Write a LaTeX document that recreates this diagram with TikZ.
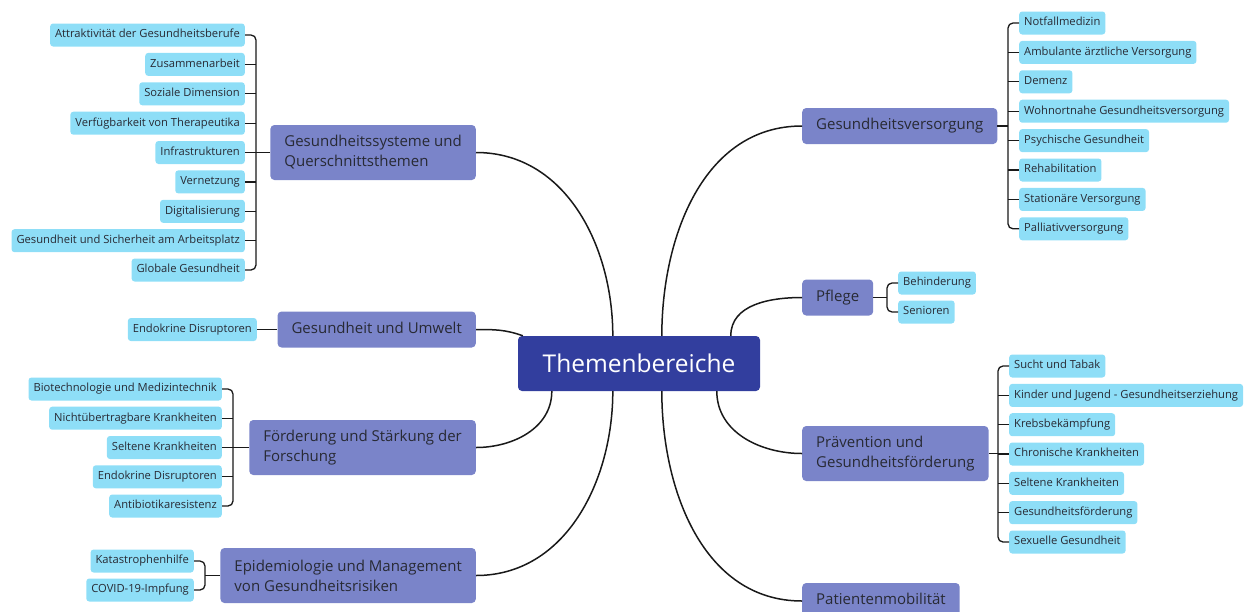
\documentclass[tikz,border=0pt]{standalone}
\usepackage{fontspec}
\setmainfont{Open Sans}
\usetikzlibrary{calc}
\definecolor{centralc}{RGB}{50,62,158}
\definecolor{topicc}{RGB}{122,132,201}
\definecolor{leafc}{RGB}{142,222,247}
\definecolor{txtc}{RGB}{40,42,52}
\begin{document}
\begin{tikzpicture}[x=1pt,y=-1pt,
  leafbox/.style={fill=leafc, rounded corners=3pt, inner xsep=5pt, inner ysep=0pt, minimum height=23pt, text height=8.4pt, text depth=2.6pt, font=\fontsize{11.2}{13}\selectfont, text=txtc},
  topicbox/.style={fill=topicc, rounded corners=4pt, inner xsep=14pt, inner ysep=0pt, minimum height=36pt, font=\fontsize{15}{20}\selectfont, align=left, text=txtc},
  oneline/.style={text height=11pt, text depth=3.5pt},
  twoline/.style={minimum height=55pt},
  conn/.style={draw=black!90, line width=1.5pt},
  bracket/.style={draw=black!90, line width=1.3pt, rounded corners=5pt},
  twig/.style={draw=black!90, line width=1.3pt}]
\useasboundingbox (0,0) rectangle (1252,611);
\clip (0,0) rectangle (1252,611);

% central
\node[fill=centralc, text=white, rounded corners=4pt, minimum width=242pt, minimum height=55pt, inner sep=0pt, font=\fontsize{24.5}{28}\selectfont] (c) at (639,363.5) {Themenbereiche};

% ---------- left topics
\node[topicbox, twoline, anchor=east] (t1) at (476,152.5) {Gesundheitssysteme und\\Querschnittsthemen};
\node[topicbox, oneline, anchor=east] (t2) at (476,329.5) {Gesundheit und Umwelt};
\node[topicbox, twoline, anchor=east] (t3) at (476,447.5) {Förderung und Stärkung der\\Forschung};
\node[topicbox, twoline, anchor=east] (t4) at (476,575.5) {Epidemiologie und Management\\von Gesundheitsrisiken};

% ---------- right topics
\node[topicbox, oneline, anchor=west] (t5) at (802,126) {Gesundheitsversorgung};
\node[topicbox, oneline, anchor=west] (t6) at (802,297.5) {Pflege};
\node[topicbox, twoline, anchor=west] (t7) at (802,453.5) {Prävention und\\Gesundheitsförderung};
\node[topicbox, oneline, anchor=west] (t8) at (802,601) {Patientenmobilität};

% ---------- central connectors
\draw[conn] ([xshift=95pt]c.north west) to[out=90,in=0] (t1.east);
\draw[conn] ([xshift=5pt]c.north west) to[out=160,in=0] (t2.east);
\draw[conn] ([xshift=34pt]c.south west) to[out=-90,in=0] (t3.east);
\draw[conn] ([xshift=95pt]c.south west) to[out=-90,in=0] (t4.east);
\draw[conn] ([xshift=144pt]c.north west) to[out=90,in=180] (t5.west);
\draw[conn] ([xshift=213pt]c.north west) to[out=90,in=180] (t6.west);
\draw[conn] ([xshift=199pt]c.south west) to[out=-90,in=180] (t7.west);
\draw[conn] ([xshift=144pt]c.south west) to[out=-90,in=180] (t8.west);

% ---------- group 1 leaves
\node[leafbox, anchor=east] (a1) at (245,35) {Attraktivität der Gesundheitsberufe};
\node[leafbox, anchor=east] (a2) at (245,64.4) {Zusammenarbeit};
\node[leafbox, anchor=east] (a3) at (245,93.8) {Soziale Dimension};
\node[leafbox, anchor=east] (a4) at (245,123.2) {Verfügbarkeit von Therapeutika};
\node[leafbox, anchor=east] (a5) at (245,152.5) {Infrastrukturen};
\node[leafbox, anchor=east] (a6) at (245,181.9) {Vernetzung};
\node[leafbox, anchor=east] (a7) at (245,211.3) {Digitalisierung};
\node[leafbox, anchor=east] (a8) at (245,240.7) {Gesundheit und Sicherheit am Arbeitsplatz};
\node[leafbox, anchor=east] (a9) at (245,270) {Globale Gesundheit};
\coordinate (s1) at (256,152.5);
\draw[bracket] (a1.east) -| (s1) |- (a9.east);
\draw[twig] (t1.west) -- (s1);
\foreach \i in {2,...,8} \draw[twig] (a\i.east) -- (a\i.east -| s1);

% ---------- Umwelt leaf
\node[leafbox, anchor=east] (b1) at (257,329.5) {Endokrine Disruptoren};
\draw[twig] (b1.east) -- (t2.west);

% ---------- Forschung leaves
\node[leafbox, anchor=east] (f1) at (222,389) {Biotechnologie und Medizintechnik};
\node[leafbox, anchor=east] (f2) at (222,418.2) {Nichtübertragbare Krankheiten};
\node[leafbox, anchor=east] (f3) at (222,447.5) {Seltene Krankheiten};
\node[leafbox, anchor=east] (f4) at (222,476.8) {Endokrine Disruptoren};
\node[leafbox, anchor=east] (f5) at (222,506) {Antibiotikaresistenz};
\coordinate (s3) at (233,447.5);
\draw[bracket] (f1.east) -| (s3) |- (f5.east);
\draw[twig] (t3.west) -- (s3);
\foreach \i in {2,3,4} \draw[twig] (f\i.east) -- (f\i.east -| s3);

% ---------- Epidemiologie leaves
\node[leafbox, anchor=east] (e1) at (194,561) {Katastrophenhilfe};
\node[leafbox, anchor=east] (e2) at (194,590) {COVID-19-Impfung};
\coordinate (s4) at (205,575.5);
\draw[bracket] (e1.east) -| (s4) |- (e2.east);
\draw[twig] (t4.west) -- (s4);

% ---------- Versorgung leaves
\node[leafbox, anchor=west] (v1) at (1019,23) {Notfallmedizin};
\node[leafbox, anchor=west] (v2) at (1019,52.4) {Ambulante ärztliche Versorgung};
\node[leafbox, anchor=west] (v3) at (1019,81.8) {Demenz};
\node[leafbox, anchor=west] (v4) at (1019,111.2) {Wohnortnahe Gesundheitsversorgung};
\node[leafbox, anchor=west] (v5) at (1019,140.6) {Psychische Gesundheit};
\node[leafbox, anchor=west] (v6) at (1019,170) {Rehabilitation};
\node[leafbox, anchor=west] (v7) at (1019,199.4) {Stationäre Versorgung};
\node[leafbox, anchor=west] (v8) at (1019,228.8) {Palliativversorgung};
\coordinate (s5) at (1008,126);
\draw[bracket] (v1.west) -| (s5) |- (v8.west);
\draw[twig] (t5.east) -- (s5);
\foreach \i in {2,...,7} \draw[twig] (v\i.west) -- (v\i.west -| s5);

% ---------- Pflege leaves
\node[leafbox, anchor=west] (p1) at (898,283) {Behinderung};
\node[leafbox, anchor=west] (p2) at (898,312) {Senioren};
\coordinate (s6) at (887,297.5);
\draw[bracket] (p1.west) -| (s6) |- (p2.west);
\draw[twig] (t6.east) -- (s6);

% ---------- Praevention leaves
\node[leafbox, anchor=west] (r1) at (1009,366) {Sucht und Tabak};
\node[leafbox, anchor=west] (r2) at (1009,395.4) {Kinder und Jugend - Gesundheitserziehung};
\node[leafbox, anchor=west] (r3) at (1009,424.7) {Krebsbekämpfung};
\node[leafbox, anchor=west] (r4) at (1009,454) {Chronische Krankheiten};
\node[leafbox, anchor=west] (r5) at (1009,483.3) {Seltene Krankheiten};
\node[leafbox, anchor=west] (r6) at (1009,512.6) {Gesundheitsförderung};
\node[leafbox, anchor=west] (r7) at (1009,542) {Sexuelle Gesundheit};
\coordinate (s7) at (998,453.5);
\draw[bracket] (r1.west) -| (s7) |- (r7.west);
\draw[twig] (t7.east) -- (s7);
\foreach \i in {2,...,6} \draw[twig] (r\i.west) -- (r\i.west -| s7);
\end{tikzpicture}
\end{document}
